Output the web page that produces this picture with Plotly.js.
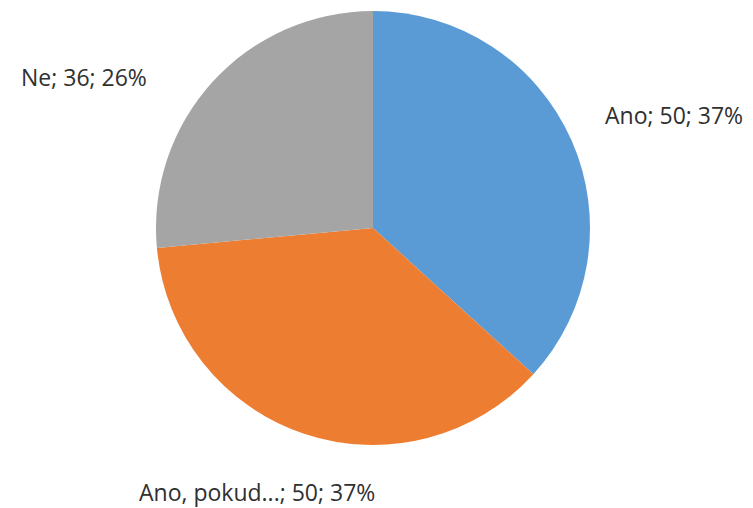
<!DOCTYPE html>
<html>
<head>
<meta charset="utf-8">
<script src="https://cdn.plot.ly/plotly-3.0.1.min.js"></script>
<style>
  body { margin: 0; background: #fff; }
  #chart { width: 753px; height: 508px; }
</style>
</head>
<body>
<div id="chart"></div>
<script>
var categories = ['Ano', 'Ano, pokud...', 'Ne'];
var counts = [50, 50, 36];
var sliceColors = ['#5B9BD5', '#ED7D31', '#A5A5A5'];

// where each outside label sits (paper coords)
var labelPos = [
  {x: 674 / 753, y: 1 - 115 / 508},
  {x: 257 / 753, y: 1 - 492 / 508},
  {x: 84 / 753, y: 1 - 77 / 508}
];

var total = counts.reduce(function(a, b){ return a + b; }, 0);

var trace = {
  type: 'pie',
  labels: categories,
  values: counts,
  sort: false,
  direction: 'clockwise',
  rotation: 0,
  marker: {colors: sliceColors, line: {color: '#ffffff', width: 0}},
  textinfo: 'none',
  hoverinfo: 'label+value+percent',
  showlegend: false,
  domain: {x: [156 / 753, 590 / 753], y: [1 - 445 / 508, 1 - 11 / 508]}
};

var annotations = [];
for (var i = 0; i < categories.length; i++) {
  annotations.push({
    xref: 'paper', yref: 'paper',
    x: labelPos[i].x, y: labelPos[i].y,
    xanchor: 'center', yanchor: 'middle',
    showarrow: false,
    text: categories[i] + '; ' + counts[i] + '; ' + Math.round(counts[i] / total * 100) + '%',
    font: {family: 'Open Sans, Liberation Sans, sans-serif', size: 23, color: '#303030'}
  });
}

var layout = {
  width: 753,
  height: 508,
  margin: {l: 0, r: 0, t: 0, b: 0},
  paper_bgcolor: '#ffffff',
  annotations: annotations
};

Plotly.newPlot('chart', [trace], layout, {displayModeBar: false});
</script>
</body>
</html>
